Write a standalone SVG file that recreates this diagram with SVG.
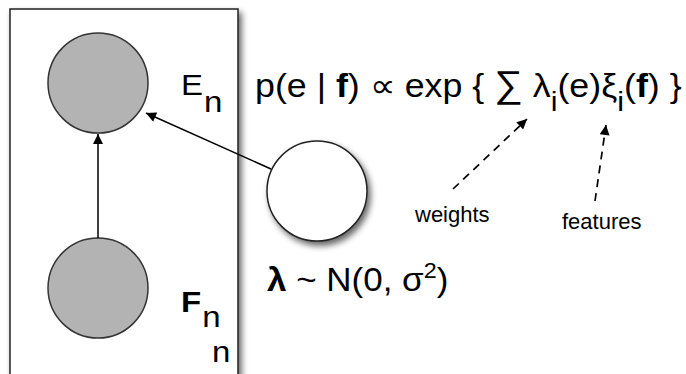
<svg xmlns="http://www.w3.org/2000/svg" width="686" height="374" viewBox="0 0 686 374">
<defs>
<filter id="sh" x="-20%" y="-20%" width="150%" height="150%">
<feGaussianBlur in="SourceAlpha" stdDeviation="3"/>
<feOffset dx="3" dy="4" result="b"/>
<feComponentTransfer><feFuncA type="linear" slope="0.6"/></feComponentTransfer>
<feMerge><feMergeNode/><feMergeNode in="SourceGraphic"/></feMerge>
</filter>
<marker id="ah" viewBox="0 0 10 10" refX="10" refY="5" markerWidth="11" markerHeight="10" markerUnits="userSpaceOnUse" orient="auto">
<path d="M0,0 L10,5 L0,10 z" fill="#000"/>
</marker>
</defs>
<style>
.t{font-family:"Liberation Sans",Arial,sans-serif;fill:#000}
.big{font-size:33px}
.lab{font-size:30px}
.sub{font-size:28px}
.sup{font-size:22px}
.sm{font-size:22px}
.b{font-weight:bold}
.obs{fill:#b3b3b3;stroke:#333;stroke-width:1.5}
.edge{stroke:#000;stroke-width:1.5;fill:none}
.dash{stroke:#000;stroke-width:1.7;fill:none;stroke-dasharray:8 6}
</style>
<rect width="686" height="374" fill="#fff"/>
<g id="plate">
<rect x="10" y="9" width="228" height="372" fill="#fff" stroke="#222" stroke-width="1.5" filter="url(#sh)"/>
<text class="t lab" transform="translate(212,362) scale(1.1,1)">n</text>
</g>
<g id="E">
<circle class="obs" cx="98" cy="83" r="50"/>
<text class="t lab" transform="translate(181,95) scale(1.1,1)">E<tspan dx="1" dy="17">n</tspan></text>
</g>
<g id="F">
<circle class="obs" cx="98" cy="288" r="50"/>
<text class="t lab" transform="translate(181,312) scale(1.1,1)"><tspan class="b">F</tspan><tspan dx="1" dy="15">n</tspan></text>
</g>
<g id="lambda">
<circle cx="317" cy="191" r="50" fill="#fff" stroke="#222" stroke-width="1.5" filter="url(#sh)"/>
<text class="t big" transform="translate(267,291) scale(1.06,1)"><tspan class="b">λ</tspan> ~ N(0, σ<tspan class="sup" dy="-13">2</tspan><tspan dy="13">)</tspan></text>
</g>
<g id="formula">
<text class="t big" transform="translate(255,97) scale(1.085,1)">p(e | <tspan class="b">f</tspan>) ∝ exp { <tspan font-size="37">∑</tspan> λ<tspan class="sub" dy="14">i</tspan><tspan dy="-14">(e)ξ</tspan><tspan class="sub" dy="14">i</tspan><tspan dy="-14">(</tspan><tspan class="b">f</tspan>) }</text>
</g>
<g id="weights"><text class="t sm" x="415" y="222">weights</text></g>
<g id="features"><text class="t sm" x="562" y="229">features</text></g>
<g id="connectors">
<line class="edge" x1="98" y1="238" x2="98" y2="134" marker-end="url(#ah)"/>
<line class="edge" x1="271" y1="169" x2="146" y2="113" marker-end="url(#ah)"/>
<line class="dash" x1="453" y1="189" x2="527" y2="119" marker-end="url(#ah)"/>
<line class="dash" x1="595" y1="201" x2="606" y2="125" marker-end="url(#ah)"/>
</g>
</svg>
